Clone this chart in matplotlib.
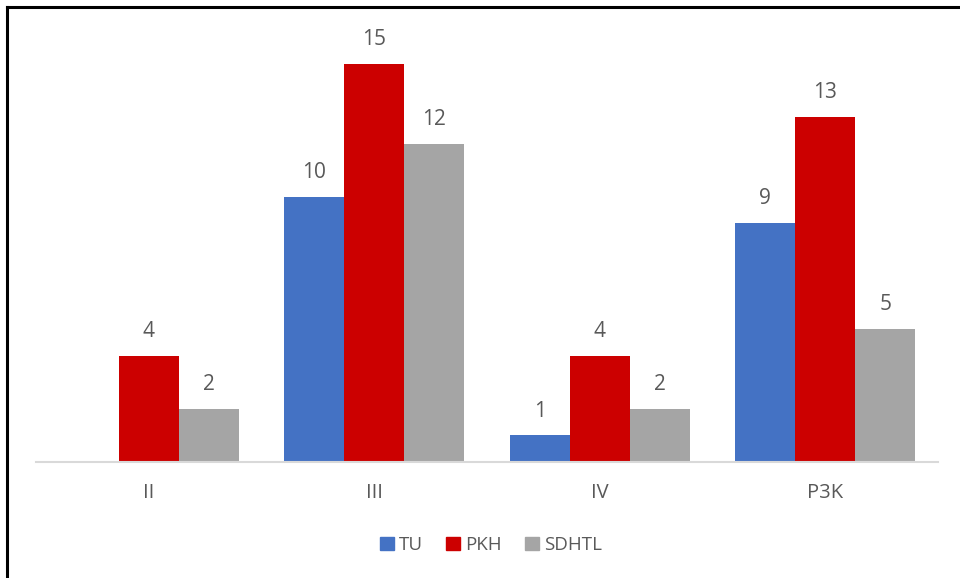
import matplotlib
matplotlib.use("Agg")
import matplotlib.pyplot as plt
from matplotlib.lines import Line2D
from matplotlib.patches import Patch
import numpy as np

categories = ["II", "III", "IV", "P3K"]
series_names = ["TU", "PKH", "SDHTL"]
tu = [0, 10, 1, 9]
pkh = [4, 15, 4, 13]
sdhtl = [2, 12, 2, 5]

colors = ["#4472C4", "#CC0000", "#A5A5A5"]
text_color = "#595959"
plt.rcParams["font.family"] = ["Open Sans", "DejaVu Sans"]

W, H = 960, 578
fig = plt.figure(figsize=(W / 100, H / 100), dpi=100)
# axes placed in pixels: x 36..938, baseline at y=462
ax = fig.add_axes([36 / W, (H - 462) / H, (938 - 36) / W, (462 - 37.5) / H])

x = np.arange(len(categories))
width = 0.266
for i, (vals, name) in enumerate(zip([tu, pkh, sdhtl], series_names)):
    pos = x + (i - 1) * width
    ax.bar(pos, vals, width, color=colors[i], label=name)
    for p, v in zip(pos, vals):
        if v == 0:
            continue
        ax.annotate(str(v), (p, v), xytext=(0, 10), textcoords="offset points",
                    ha="center", va="bottom", fontsize=15, color=text_color)

ax.set_xlim(-0.5, 3.5)
ax.set_ylim(0, 16)
ax.set_yticks([])
for s in ["top", "right", "left"]:
    ax.spines[s].set_visible(False)
ax.spines["bottom"].set_color("#D9D9D9")
ax.spines["bottom"].set_linewidth(1.5)
ax.set_xticks(x)
ax.set_xticklabels(categories, fontsize=14.5, color=text_color)
ax.tick_params(axis="x", length=0, pad=15)

handles = [Patch(color=c) for c in colors]
fig.legend(handles, series_names, loc="center", bbox_to_anchor=(491 / W, (H - 545) / H),
           ncol=3, frameon=False, fontsize=13.5, labelcolor=text_color,
           handlelength=0.75, handleheight=0.75, handletextpad=0.3, columnspacing=1.2)

# partial frame: left and top edges only
fig.add_artist(Line2D([7 / W, 7 / W], [0, 1 - 7 / H], color="black", lw=2.2,
                      transform=fig.transFigure))
fig.add_artist(Line2D([7 / W, 1], [1 - 7 / H, 1 - 7 / H], color="black", lw=2.2,
                      transform=fig.transFigure))

fig.savefig("out.png", dpi=100)
